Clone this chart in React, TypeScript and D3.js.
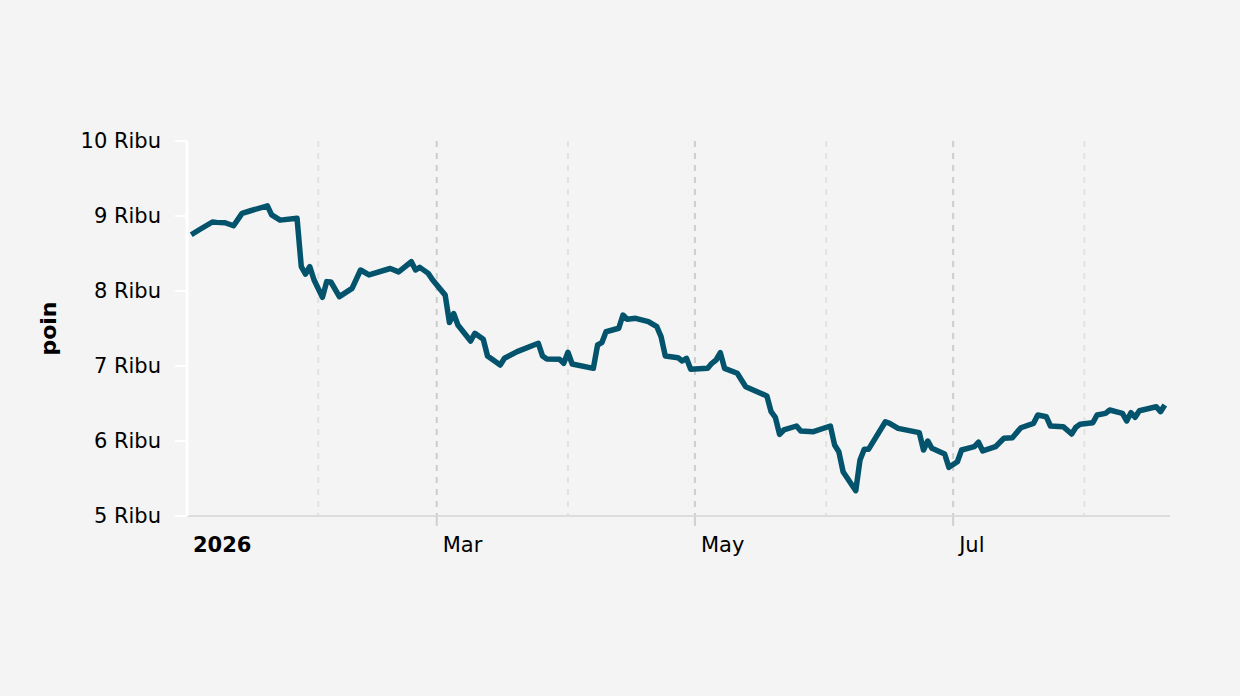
import React, { useEffect } from "react";
import * as d3 from "d3";

const dates: string[] = [
  "2026-01-02","2026-01-04","2026-01-07","2026-01-08","2026-01-10","2026-01-12","2026-01-14","2026-01-16",
  "2026-01-20","2026-01-21","2026-01-23","2026-01-27","2026-01-28","2026-01-29","2026-01-30","2026-01-31",
  "2026-02-02","2026-02-03","2026-02-04","2026-02-06","2026-02-09","2026-02-11","2026-02-13","2026-02-18",
  "2026-02-20","2026-02-23","2026-02-24","2026-02-25","2026-02-27","2026-02-28",
  "2026-03-03","2026-03-04","2026-03-05","2026-03-06","2026-03-09","2026-03-10","2026-03-12","2026-03-13",
  "2026-03-16","2026-03-17","2026-03-20","2026-03-25","2026-03-26","2026-03-27","2026-03-30","2026-03-31",
  "2026-04-01","2026-04-02","2026-04-07","2026-04-08","2026-04-09","2026-04-10","2026-04-13","2026-04-14",
  "2026-04-15","2026-04-17","2026-04-20","2026-04-22","2026-04-23","2026-04-24","2026-04-27","2026-04-28",
  "2026-04-29","2026-04-30",
  "2026-05-04","2026-05-05","2026-05-06","2026-05-07","2026-05-08","2026-05-11","2026-05-13","2026-05-18",
  "2026-05-19","2026-05-20","2026-05-21","2026-05-22","2026-05-25","2026-05-26","2026-05-29",
  "2026-06-02","2026-06-03","2026-06-04","2026-06-05","2026-06-08","2026-06-09","2026-06-10","2026-06-11",
  "2026-06-15","2026-06-16","2026-06-18","2026-06-23","2026-06-24","2026-06-25","2026-06-26","2026-06-29",
  "2026-06-30",
  "2026-07-02","2026-07-03","2026-07-06","2026-07-07","2026-07-08","2026-07-11","2026-07-13","2026-07-15",
  "2026-07-17","2026-07-20","2026-07-21","2026-07-23","2026-07-24","2026-07-27","2026-07-29","2026-07-30",
  "2026-07-31",
  "2026-08-03","2026-08-04","2026-08-06","2026-08-07","2026-08-10","2026-08-11","2026-08-12","2026-08-13",
  "2026-08-14","2026-08-18","2026-08-19","2026-08-20"
];

const values: number[] = [
  8750, 8820, 8920, 8915, 8910, 8870, 9035, 9070,
  9135, 9015, 8945, 8970, 8325, 8225, 8325, 8150,
  7915, 8125, 8120, 7925, 8035, 8280, 8215, 8300,
  8255, 8390, 8280, 8315, 8235, 8150,
  7945, 7580, 7700, 7547, 7333, 7436, 7356, 7133,
  7013, 7103, 7191, 7303, 7133, 7093, 7089, 7036,
  7183, 7027, 6969, 7280, 7311, 7457, 7503, 7680,
  7623, 7636, 7591, 7524, 7391, 7133, 7111, 7067,
  7103, 6956,
  6969, 7036, 7080, 7177, 6969, 6903, 6724, 6600,
  6391, 6316, 6089, 6147, 6200, 6133, 6124,
  6200, 5947, 5857, 5591, 5337, 5747, 5889, 5889,
  6257, 6236, 6169, 6111, 5880, 6000, 5903, 5827,
  5649,
  5724, 5880, 5924, 5983, 5867, 5924, 6036, 6044,
  6177, 6236, 6347, 6324, 6200, 6191, 6093, 6183,
  6223,
  6244, 6347, 6369, 6413, 6369, 6267, 6377, 6316,
  6404, 6457, 6391, 6480
];

const yTicks: number[] = [5000, 6000, 7000, 8000, 9000, 10000];
const monthTicks: string[] = ["2026-01-01","2026-02-01","2026-03-01","2026-04-01","2026-05-01","2026-06-01","2026-07-01","2026-08-01"];
const monthLabels: string[] = ["2026", "", "Mar", "", "May", "", "Jul", ""];
const yTitle = "poin";

const W = 1240;
const H = 696;
const FONT = "'DejaVu Sans', Verdana, sans-serif";

export default function App() {
  useEffect(() => {
    document.body.style.margin = "0";
    document.body.style.background = "#f4f4f4";
  }, []);

  const parse = d3.utcParse("%Y-%m-%d");
  const data = dates.map((d, i) => ({ date: parse(d) as Date, value: values[i] }));

  const x = d3
    .scaleUtc()
    .domain([parse("2026-01-01") as Date, parse("2026-08-21") as Date])
    .range([187, 1169]);
  const y = d3.scaleLinear().domain([5000, 10000]).range([516, 141]);

  const line = d3
    .line<{ date: Date; value: number }>()
    .x((d) => x(d.date))
    .y((d) => y(d.value))
    .curve(d3.curveLinear);

  const ticks = monthTicks.map((m, i) => ({ date: parse(m) as Date, label: monthLabels[i], major: monthLabels[i] !== "" }));

  return (
    <svg width={W} height={H} style={{ display: "block", background: "#f4f4f4" }}>
      <rect x={0} y={0} width={W} height={H} fill="#f4f4f4" />
      {/* vertical gridlines */}
      {ticks.slice(1).map((t, i) => (
        <line
          key={"g" + i}
          x1={x(t.date)}
          x2={x(t.date)}
          y1={y(10000)}
          y2={y(5000)}
          stroke={t.major ? "#cdcdcd" : "#e2e2e2"}
          strokeWidth={2}
          strokeDasharray="6,6"
        />
      ))}
      {/* x baseline */}
      <line x1={187} x2={1170} y1={y(5000)} y2={y(5000)} stroke="#dcdcdc" strokeWidth={2} />
      {/* x ticks (major, after start) */}
      {ticks.slice(1).filter((t) => t.major).map((t, i) => (
        <line key={"xt" + i} x1={x(t.date)} x2={x(t.date)} y1={y(5000)} y2={y(5000) + 10} stroke="#d0d0d0" strokeWidth={2} />
      ))}
      {/* x labels */}
      {ticks.filter((t) => t.major).map((t, i) => (
        <text
          key={"xl" + i}
          x={x(t.date) + 6}
          y={552}
          fontFamily={FONT}
          fontSize={21}
          fontWeight={t.label === "2026" ? "bold" : "normal"}
          fill="#000"
        >
          {t.label}
        </text>
      ))}
      {/* y axis */}
      <line x1={187} x2={187} y1={y(10000)} y2={y(5000)} stroke="#ffffff" strokeWidth={3} />
      {yTicks.map((v) => (
        <g key={"yt" + v}>
          <line x1={175} x2={187} y1={y(v)} y2={y(v)} stroke="#ffffff" strokeWidth={2} />
          <text
            x={161}
            y={y(v)}
            textAnchor="end"
            dominantBaseline="central"
            fontFamily={FONT}
            fontSize={21}
            fill="#000"
          >
            {`${v / 1000} Ribu`}
          </text>
        </g>
      ))}
      <text
        transform={`translate(48,${(y(5000) + y(10000)) / 2}) rotate(-90)`}
        textAnchor="middle"
        dominantBaseline="central"
        fontFamily={FONT}
        fontSize={22}
        fontWeight="bold"
        fill="#000"
      >
        {yTitle}
      </text>
      {/* series line */}
      <path
        d={line(data) || ""}
        fill="none"
        stroke="#03536d"
        strokeWidth={5.5}
        strokeLinejoin="round"
        strokeLinecap="butt"
      />
    </svg>
  );
}
